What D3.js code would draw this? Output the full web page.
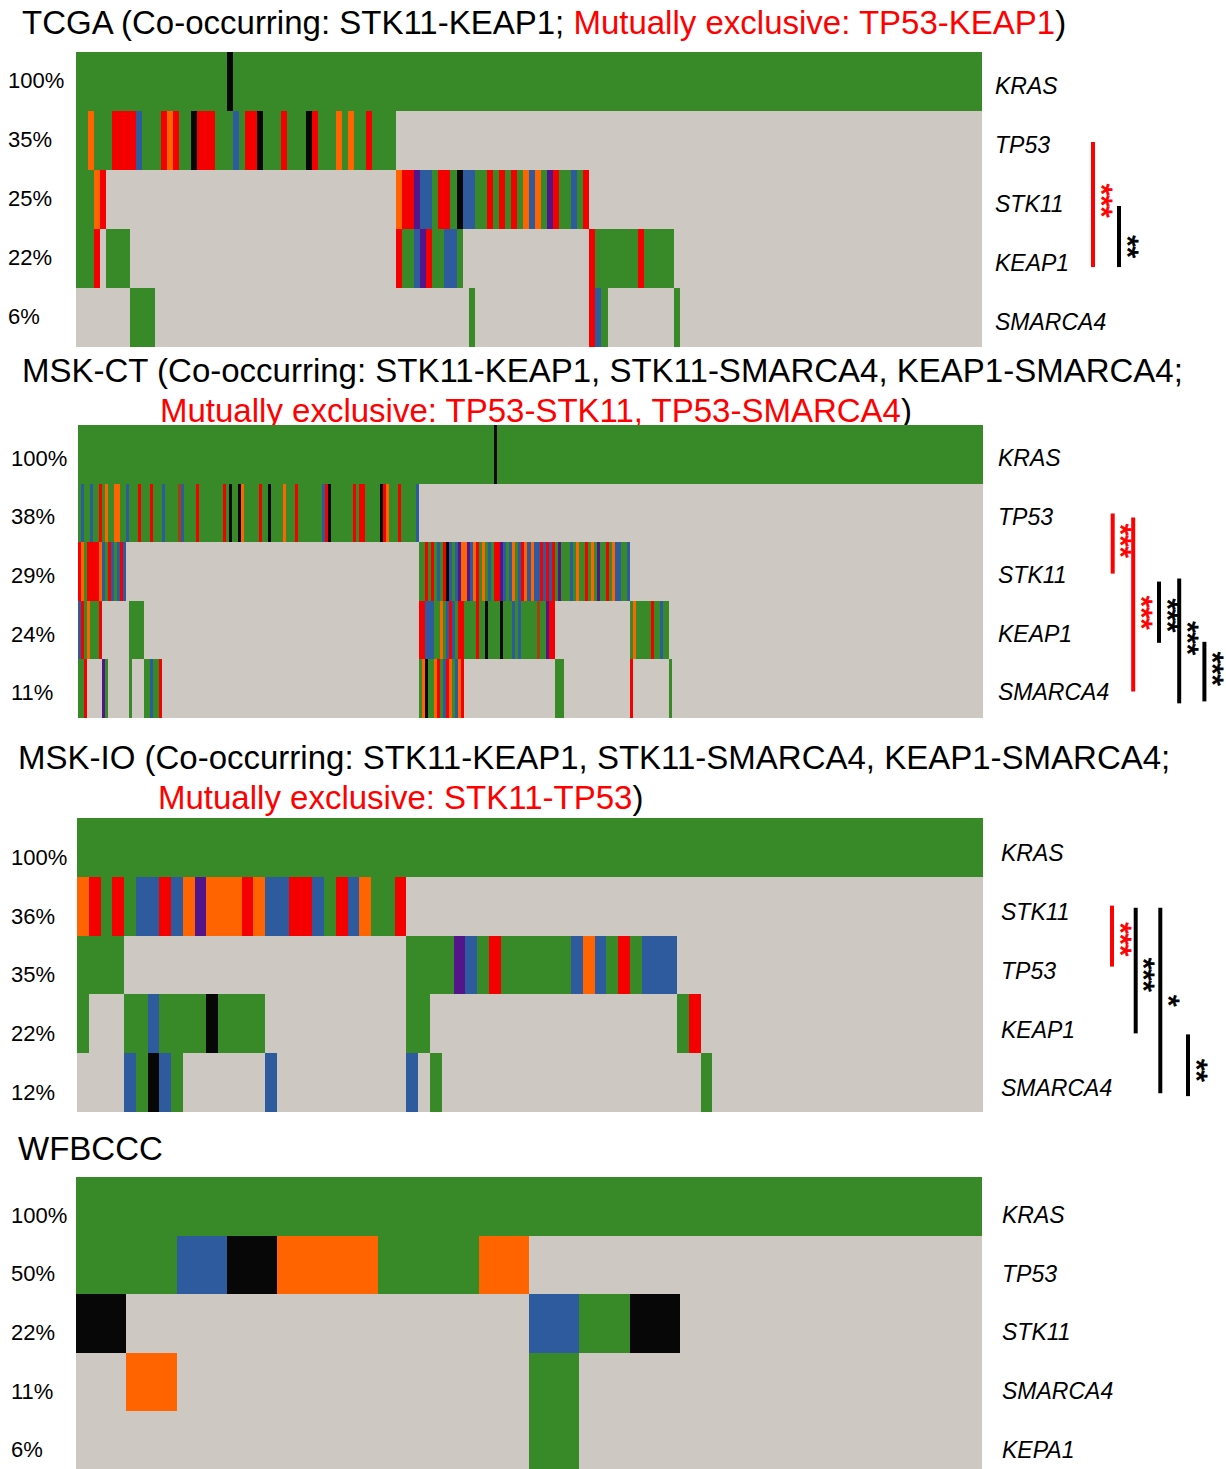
<!DOCTYPE html>
<html>
<head>
<meta charset="utf-8">
<script src="https://cdn.jsdelivr.net/npm/d3@7"></script>
<style>
  body { margin: 0; background: #fff; }
  svg { display: block; }
</style>
</head>
<body>
<script>
// ---- alteration classes (one letter per sample; "." = no alteration) ----
const alterationCodes = ["G", "R", "O", "B", "P", "K", "N"];
const alterationFills = ["#378a27", "#f50000", "#ff6400", "#2e5b9d", "#53158a", "#070707", "#a5400f"];
const wildTypeFill = "#cdc8c1";

// ---- TCGA ----
const tcgaGenes = ["KRAS", "TP53", "STK11", "KEAP1", "SMARCA4"];
const tcgaSampleCount = 150;
const tcgaRows = [
  "G25 K G124",
  "G2 O G3 R4 B G3 R O R G2 K R3 G3 B G R2 K G3 R G3 K R G3 O G O G2 R G4 .97",
  "G3 O R .48 O R2 P B2 G R2 G K B2 G2 R G R G R G O B O G P R G2 B G R .65",
  "G3 R . G4 .44 R G2 B P R G2 B2 G .21 R G7 R G5 .51",
  ".9 G4 .52 G .19 R B G .11 G .50"
];
const tcgaTitle = [
  [["TCGA (Co-occurring: STK11-KEAP1; ", false], ["Mutually exclusive: TP53-KEAP1", true], [")", false]]
];
const tcgaPairs = [
  { genes: ["TP53", "KEAP1"], stars: "***", exclusive: true },
  { genes: ["STK11", "KEAP1"], stars: "**", exclusive: false }
];

// ---- MSK-CT ----
const mskctGenes = ["KRAS", "TP53", "STK11", "KEAP1", "SMARCA4"];
const mskctSampleCount = 300;
const mskctRows = [
  "G138 K G161",
  "G B G2 B G2 R G O G2 O2 G2 B G3 R G3 R G3 B G4 N B G4 R G8 R G K G2 K O G5 R G2 K G4 O G3 R G8 B R K G7 R G R2 G5 K R O G3 R G5 B .187",
  "R O G R4 O B G R B G B R B .97 " +
  "G2 R G R G B G R K B G B P O2 P B O R G O G B G R2 P B G B O G B R O B " +
  "O B2 R B R B R G P G3 B G O G2 R G O G P G2 R G O B2 G2 B .117",
  "B R G O G3 R .9 G5 .91 R2 B3 G2 O G B R B G R2 G4 R G2 K G4 K G3 B G B G5 N G2 P R2 .25 G O G5 R G2 B G2 .104",
  "G2 R .5 P G .7 G .4 G2 B G2 R .85 G O K G2 O R G B R O G B O R .30 G3 .22 R .12 G .103"
];
const mskctTitle = [
  [["MSK-CT (Co-occurring: STK11-KEAP1, STK11-SMARCA4, KEAP1-SMARCA4;", false]],
  [["Mutually exclusive: TP53-STK11, TP53-SMARCA4", true], [")", false]]
];
const mskctPairs = [
  { genes: ["TP53", "STK11"], stars: "***", exclusive: true },
  { genes: ["TP53", "SMARCA4"], stars: "***", exclusive: true },
  { genes: ["STK11", "KEAP1"], stars: "***", exclusive: false },
  { genes: ["STK11", "SMARCA4"], stars: "***", exclusive: false },
  { genes: ["KEAP1", "SMARCA4"], stars: "***", exclusive: false }
];

// ---- MSK-IO ----
const mskioGenes = ["KRAS", "STK11", "TP53", "KEAP1", "SMARCA4"];
const mskioSampleCount = 77;
const mskioRows = [
  "G77",
  "O R G R G B2 R B O P O3 R O B2 R2 B G R B O G2 R .49",
  "G4 .24 G4 P B G R G6 B O B G R G B3 .26",
  "G .3 G2 B G4 K G4 .12 G2 .21 G R .24",
  ".4 B G K B G .7 B .11 B . G .22 G .23"
];
const mskioTitle = [
  [["MSK-IO (Co-occurring: STK11-KEAP1, STK11-SMARCA4, KEAP1-SMARCA4;", false]],
  [["Mutually exclusive: STK11-TP53", true], [")", false]]
];
const mskioPairs = [
  { genes: ["STK11", "TP53"], stars: "***", exclusive: true },
  { genes: ["STK11", "KEAP1"], stars: "***", exclusive: false },
  { genes: ["STK11", "SMARCA4"], stars: "*", exclusive: false },
  { genes: ["KEAP1", "SMARCA4"], stars: "**", exclusive: false }
];

// ---- WFBCCC ----
const wfGenes = ["KRAS", "TP53", "STK11", "SMARCA4", "KEPA1"];
const wfSampleCount = 18;
const wfRows = [
  "G18",
  "G2 B K O2 G2 O .9",
  "K .8 B G K .6",
  ". O .7 G .8",
  ".9 G .8"
];
const wfTitle = [[["WFBCCC", false]]];
const wfPairs = [];

// ---- page layout ----
const W = 1226, H = 1469;
const RED = "#ff0000";
const FONT = "'Liberation Sans', Arial, Helvetica, sans-serif";

const panels = [
  { genes: tcgaGenes, n: tcgaSampleCount, rows: tcgaRows, title: tcgaTitle, pairs: tcgaPairs,
    left: 76, right: 982, top: 52, bottom: 347, pctX: 8, geneX: 995, pctDy: 6.4, geneDy: 12.7,
    titlePos: [[22, 34]],
    lanes: [{ x: 1093, f1: 0.525, f2: 0.645, sdy: -4 }, { x: 1119, f1: 0.61, f2: 0.645, sdy: 10 }] },
  { genes: mskctGenes, n: mskctSampleCount, rows: mskctRows, title: mskctTitle, pairs: mskctPairs,
    left: 78, right: 983, top: 425, bottom: 718, pctX: 11, geneX: 998, pctDy: 11.4, geneDy: 11.7,
    titlePos: [[22, 382], [160, 422]],
    lanes: [{ x: 1112.7, f1: 0.51, f2: 0.536, sdy: -3 }, { x: 1133.2, f1: 0.58, f2: 0.546, sdy: 8 },
            { x: 1159, f1: 0.672, f2: 0.717, sdy: 3 }, { x: 1179.2, f1: 0.62, f2: 0.75, sdy: -3 },
            { x: 1204.4, f1: 0.70, f2: 0.717, sdy: -3 }] },
  { genes: mskioGenes, n: mskioSampleCount, rows: mskioRows, title: mskioTitle, pairs: mskioPairs,
    left: 77, right: 983, top: 818, bottom: 1112, pctX: 11, geneX: 1001, pctDy: 17.4, geneDy: 13.7,
    titlePos: [[18, 769], [158, 809]],
    lanes: [{ x: 1112, f1: 0.49, f2: 0.527, sdy: 3 }, { x: 1135.7, f1: 0.527, f2: 0.663, sdy: 4 },
            { x: 1160.3, f1: 0.527, f2: 0.68, sdy: 0 }, { x: 1188, f1: 0.68, f2: 0.73, sdy: 5 }] },
  { genes: wfGenes, n: wfSampleCount, rows: wfRows, title: wfTitle, pairs: wfPairs,
    left: 76, right: 982, top: 1177, bottom: 1470, pctX: 11, geneX: 1002, pctDy: 16.4, geneDy: 16.9,
    titlePos: [[18, 1160]], lanes: [] }
];

const fillScale = d3.scaleOrdinal().domain(alterationCodes).range(alterationFills);

// expand run-length tokens ("G25", "R", ".48") into one code per sample
function expand(rle) {
  return rle.trim().split(/\s+/).flatMap(tok => {
    const n = tok.length > 1 ? +tok.slice(1) : 1;
    return Array(n).fill(tok[0]);
  });
}

// merge neighbouring samples of the same class into runs
function runs(codes) {
  const out = [];
  codes.forEach((c, i) => {
    const last = out[out.length - 1];
    if (last && last.code === c && last.end === i - 1) last.end = i;
    else out.push({ code: c, start: i, end: i });
  });
  return out.filter(r => r.code !== ".");
}

const svg = d3.select("body").append("svg")
  .attr("width", W).attr("height", H)
  .attr("font-family", FONT);

panels.forEach(p => {
  const g = svg.append("g");
  const x = d3.scaleBand().domain(d3.range(p.n)).range([p.left, p.right]).padding(0);
  const y = d3.scaleBand().domain(p.genes).range([p.top, p.bottom]).padding(0);
  const rowData = p.genes.map((gene, i) => {
    const codes = expand(p.rows[i]);
    const altered = codes.filter(c => c !== ".").length;
    return { gene, codes, pct: Math.round(100 * altered / p.n) + "%" };
  });

  // title (drawn first so the matrix sits on top of any descenders)
  p.title.forEach((line, li) => {
    const t = g.append("text")
      .attr("x", p.titlePos[li][0]).attr("y", p.titlePos[li][1])
      .attr("font-size", 33);
    line.forEach(([txt, excl]) => {
      t.append("tspan").attr("fill", excl ? RED : "#000").text(txt);
    });
  });

  // wild-type background per gene row
  g.selectAll("rect.bg").data(rowData).join("rect")
    .attr("class", "bg")
    .attr("x", p.left).attr("width", p.right - p.left)
    .attr("y", d => y(d.gene)).attr("height", y.bandwidth())
    .attr("fill", wildTypeFill)
    .attr("shape-rendering", "crispEdges");

  // altered samples
  rowData.forEach(d => {
    g.append("g").selectAll("rect").data(runs(d.codes)).join("rect")
      .attr("x", r => x(r.start))
      .attr("width", r => x(r.end) + x.bandwidth() - x(r.start))
      .attr("y", y(d.gene)).attr("height", y.bandwidth())
      .attr("fill", r => fillScale(r.code))
      .attr("shape-rendering", "crispEdges");
  });

  // alteration frequency on the left
  g.selectAll("text.pct").data(rowData).join("text")
    .attr("class", "pct")
    .attr("x", p.pctX)
    .attr("y", d => y(d.gene) + y.bandwidth() / 2 + p.pctDy)
    .attr("font-size", 22)
    .text(d => d.pct);

  // gene names on the right
  g.selectAll("text.gene").data(rowData).join("text")
    .attr("class", "gene")
    .attr("x", p.geneX)
    .attr("y", d => y(d.gene) + y.bandwidth() / 2 + p.geneDy)
    .attr("font-size", 23).attr("font-style", "italic")
    .text(d => d.gene);

  // significance brackets for co-occurring / mutually exclusive pairs
  p.pairs.forEach((pair, i) => {
    const lane = p.lanes[i];
    const col = pair.exclusive ? RED : "#000";
    const y1 = y(pair.genes[0]) + lane.f1 * y.bandwidth();
    const y2 = y(pair.genes[1]) + lane.f2 * y.bandwidth();
    g.append("line")
      .attr("x1", lane.x).attr("x2", lane.x)
      .attr("y1", y1).attr("y2", y2)
      .attr("stroke", col).attr("stroke-width", 4);
    // stars run top-to-bottom beside the bracket
    const fs = 30;
    const cx = lane.x + 12, cy = (y1 + y2) / 2 + lane.sdy;
    g.append("text")
      .attr("transform", `translate(${cx - 0.58 * fs + 4},${cy}) rotate(90)`)
      .attr("text-anchor", "middle")
      .attr("font-size", fs)
      .attr("letter-spacing", -0.5)
      .attr("fill", col)
      .attr("stroke", col).attr("stroke-width", 0.9)
      .text(pair.stars);
  });
});
</script>
</body>
</html>
